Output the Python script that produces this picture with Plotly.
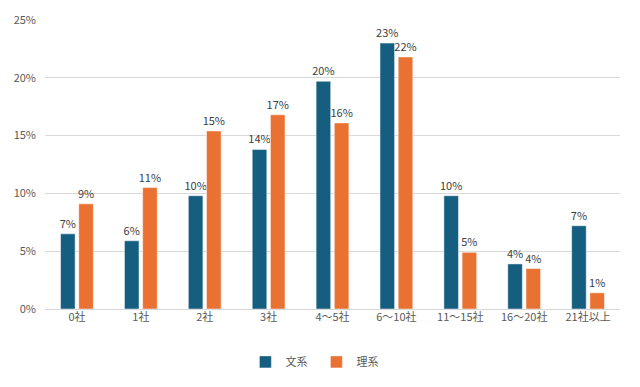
import plotly.graph_objects as go

categories = ["0社", "1社", "2社", "3社", "4～5社", "6～10社", "11～15社", "16～20社", "21社以上"]
bunkei = [0.065, 0.059, 0.098, 0.138, 0.197, 0.230, 0.098, 0.039, 0.072]
rikei = [0.091, 0.105, 0.154, 0.168, 0.161, 0.218, 0.049, 0.035, 0.014]
series_names = ["文系", "理系"]
colors = ["#155e80", "#e97132"]
yticks = [0, 0.05, 0.10, 0.15, 0.20, 0.25]

font_family = "Noto Sans CJK JP, Noto Sans, sans-serif"

fig = go.Figure()
for name, vals, col in zip(series_names, [bunkei, rikei], colors):
    fig.add_trace(go.Bar(
        x=categories, y=vals, name=name,
        marker=dict(color=col, line=dict(color="rgba(255,255,255,0.6)", width=0.8)),
        texttemplate="%{y:.0%}", textposition="outside", constraintext="none",
        textfont=dict(size=11, color="#404040", family=font_family),
        outsidetextfont=dict(size=11, color="#404040", family=font_family),
        cliponaxis=False,
    ))

# page body has an 8px default margin; margins are compensated for it
fig.update_layout(
    width=640, height=387,
    margin=dict(l=37, r=28, t=11.5, b=86, autoexpand=False),
    paper_bgcolor="white", plot_bgcolor="white",
    barmode="group", bargap=0.43, bargroupgap=0.2,
    font=dict(family=font_family, size=11, color="#595959"),
    showlegend=True,
    legend=dict(orientation="h", x=0.472, xanchor="center", y=-0.183, yanchor="middle",
                font=dict(size=11, color="#595959"), itemwidth=30, entrywidth=26,
                traceorder="normal"),
    xaxis=dict(showgrid=False, showline=False, ticks="", automargin=False,
               tickfont=dict(size=11, color="#595959")),
    yaxis=dict(range=[0, 0.25], tickvals=yticks, tickformat=".0%", automargin=False,
               showgrid=True, gridcolor="#d9d9d9", gridwidth=1,
               zeroline=True, zerolinecolor="#d9d9d9", zerolinewidth=1,
               showline=False, ticks="", ticklabelstandoff=8,
               tickfont=dict(size=11, color="#595959")),
)

fig.write_html("out.html")
